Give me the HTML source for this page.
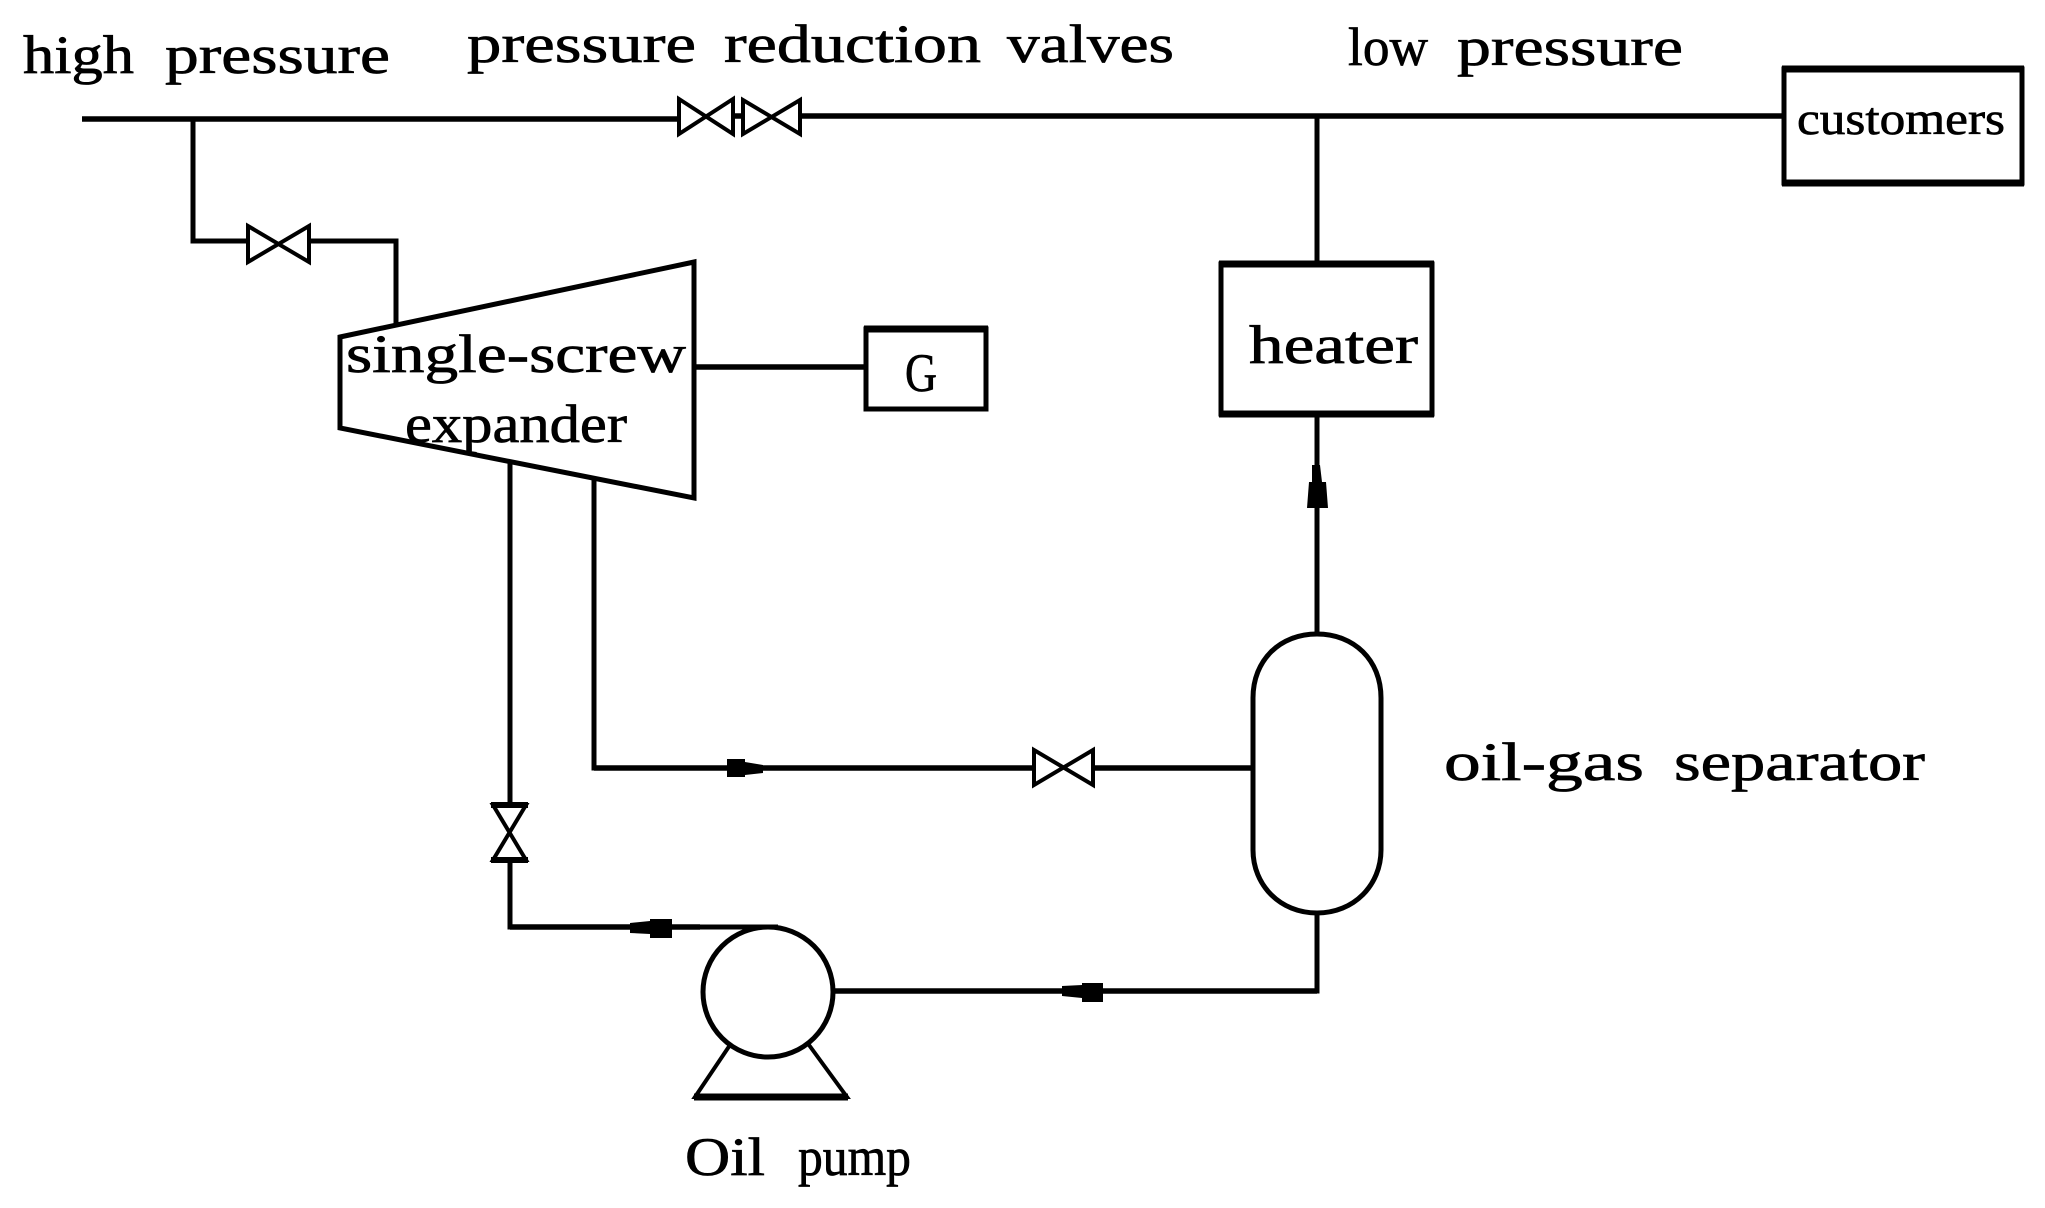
<!DOCTYPE html>
<html><head><meta charset="utf-8"><style>
html,body{margin:0;padding:0;background:#fff}
svg{display:block}
text{font-family:"Liberation Serif",serif;font-size:54px;fill:#000;stroke:#000;stroke-width:.7px}
</style></head><body>
<svg width="2045" height="1208" viewBox="0 0 2045 1208" xmlns="http://www.w3.org/2000/svg">
<rect width="2045" height="1208" fill="#fff"/>
<g fill="none" stroke="#000" stroke-width="5">
<path d="M82 119H680" stroke-width="5.5"/>
<path d="M733 116H743M800 116H1784" stroke-width="5.5"/>
<path d="M193 119V241H248M309 241H396V325"/>
<path d="M679 99V134L733 99V134ZM743 100V134L800 100V134Z" stroke-width="4"/>
<path d="M248 226V262L309 226V262Z" stroke-width="4"/>
<path d="M340 337L694 262V498L340 428Z"/>
<path d="M694 367H866" stroke-width="5.5"/>
<rect x="866" y="329" width="120" height="80"/>
<path d="M864 329H988" stroke-width="7"/>
<rect x="1784" y="69" width="238" height="114"/>
<path d="M1782 69H2024M1782 183H2024" stroke-width="7"/>
<path d="M1317 116V263"/>
<rect x="1221" y="264" width="211" height="150"/>
<path d="M1219 264H1434M1219 414H1434" stroke-width="7"/>
<path d="M1317 414V634"/>
<path d="M1253 698C1253 660 1280 634 1317 634C1354 634 1381 660 1381 698V850C1381 885 1354 913 1317 913C1280 913 1253 885 1253 850Z"/>
<path d="M1317 913V991H833"/>
<path d="M1317 991H833" stroke-width="5.5"/>
<circle cx="768" cy="992" r="65"/>
<path d="M730 1045L695 1097H847L809 1045" stroke-width="4"/>
<path d="M694 1097H848" stroke-width="7"/>
<path d="M778 927H510V862"/>
<path d="M510 927H700" stroke-width="5.5"/>
<path d="M510 463V803"/>
<path d="M594 480V768H1034M1093 768H1253"/>
<path d="M594 768H1034M1093 768H1253" stroke-width="5.5"/>
<path d="M1034 750V785L1093 750V785Z" stroke-width="4"/>
<path d="M493 805H526L493 860H526Z" stroke-width="4"/>
<path d="M491 805H528M491 860H528" stroke-width="6"/>
</g>
<g fill="#000" stroke="none">
<path d="M1312 465H1320L1322 482H1326L1328 508H1307L1309 482H1312Z"/>
<path d="M727 759H745V762L763 765V773L745 775V777H727Z"/>
<path d="M630 923L650 921V919H672V938H650V934L630 933Z"/>
<path d="M1062 986L1082 985V983H1103V1002H1082V998L1062 996Z"/>
</g>
<g>
<text x="23" y="73" textLength="111" lengthAdjust="spacingAndGlyphs">high</text>
<text x="165" y="73" textLength="225" lengthAdjust="spacingAndGlyphs">pressure</text>
<text x="467" y="62" textLength="229" lengthAdjust="spacingAndGlyphs">pressure</text>
<text x="724" y="62" textLength="257" lengthAdjust="spacingAndGlyphs">reduction</text>
<text x="1007" y="62" textLength="167" lengthAdjust="spacingAndGlyphs">valves</text>
<text x="1348" y="65" textLength="80" lengthAdjust="spacingAndGlyphs">low</text>
<text x="1457" y="65" textLength="226" lengthAdjust="spacingAndGlyphs">pressure</text>
<text x="1797" y="134" textLength="208" lengthAdjust="spacingAndGlyphs" style="font-size:46px">customers</text>
<text x="1249" y="363" textLength="169" lengthAdjust="spacingAndGlyphs">heater</text>
<text x="905" y="391" textLength="32" lengthAdjust="spacingAndGlyphs">G</text>
<text x="346" y="372" textLength="340" lengthAdjust="spacingAndGlyphs">single-screw</text>
<text x="405" y="442" textLength="222" lengthAdjust="spacingAndGlyphs">expander</text>
<text x="685" y="1175" textLength="80" lengthAdjust="spacingAndGlyphs">Oil</text>
<text x="798" y="1175" textLength="113" lengthAdjust="spacingAndGlyphs">pump</text>
<text x="1444" y="780" textLength="200" lengthAdjust="spacingAndGlyphs">oil-gas</text>
<text x="1674" y="780" textLength="251" lengthAdjust="spacingAndGlyphs">separator</text>
</g>
</svg>
</body></html>
